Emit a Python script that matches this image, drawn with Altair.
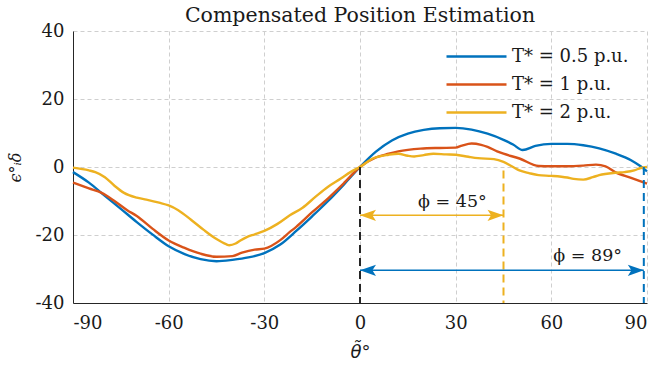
import altair as alt
import pandas as pd

# ---- data ----
blue_x = [-90, -85, -80, -75, -70, -65, -60, -55, -50, -45, -40, -35, -30, -25, -20, -15, -10, -5, 0,
          5, 10, 15, 20, 25, 30, 35, 40, 45, 48, 51, 55, 60, 65, 70, 75, 80, 85, 88, 90]
blue_y = [-1.5, -4.6, -8.5, -12.3, -16.2, -19.9, -23.3, -25.6, -27.1, -27.7, -27.3, -26.6, -25.3, -22.8, -18.8, -14.5, -10.0, -5.1, 0,
          4.5, 7.8, 9.8, 10.9, 11.4, 11.5, 11.0, 9.8, 8.0, 6.6, 5.0, 6.2, 6.8, 6.8, 6.4, 5.5, 4.0, 2.0, 0.2, -1.3]

red_x = [-90, -85, -81, -77, -73, -70, -65, -60, -55, -50, -45, -40, -37, -33, -30, -25, -22, -20, -15, -10, -5, 0,
         5, 9, 12, 19, 25, 30, 32, 35, 38, 40, 43, 45, 50, 56, 60, 65, 70, 74, 77, 80, 85, 90]
red_y = [-4.6, -6.3, -7.6, -10.0, -12.7, -14.4, -18.2, -21.6, -23.8, -25.5, -26.4, -26.2, -25.2, -24.3, -24.0, -21.5, -19.1, -17.6, -13.3, -9.2, -4.7, 0,
         2.8, 3.9, 4.6, 5.4, 5.6, 5.7, 6.3, 6.9, 6.5, 5.9, 4.6, 3.9, 2.5, 0.3, 0.2, 0.2, 0.4, 0.7, 0.2, -1.5, -3.2, -4.9]

yel_x = [-90, -85, -83, -80, -77, -74, -70, -67, -63, -60, -57, -53, -49, -45, -42, -41, -39, -37.5, -35.5, -33, -30, -26, -22, -18, -14, -10, -6, -3, 0,
         4, 9, 12, 15, 17, 20, 23, 27, 30, 34, 37, 42, 45, 48, 50, 53, 56, 60, 65, 67, 70, 73, 75, 80, 83, 86, 88, 90]
yel_y = [-0.2, -1.0, -1.5, -3.0, -5.5, -7.6, -9.0, -9.6, -10.5, -11.3, -12.7, -15.5, -18.5, -21.2, -22.7, -23.0, -22.5, -21.6, -20.6, -19.8, -18.8, -16.8, -14.2, -12.0, -8.8, -5.8, -3.4, -1.5, 0,
         2.5, 3.6, 3.9, 3.3, 3.1, 3.5, 3.9, 3.7, 3.6, 3.0, 2.6, 2.3, 1.5, 0.0, -1.0, -1.8, -2.4, -2.6, -3.1, -3.5, -3.7, -3.0, -2.4, -1.7, -1.5, -1.0, -0.3, 0.0]

series_names = ["T* = 0.5 p.u.", "T* = 1 p.u.", "T* = 2 p.u."]
series_colors = ["#0072BD", "#D95319", "#EDB120"]

x_ticks = [-90, -60, -30, 0, 30, 60, 90]
y_ticks = [-40, -20, 0, 20, 40]

# annotation data
vline_x = [0, 45, 89]
vline_top = [0, -1, 0]
vline_bottom = [-40, -40, -40]
vline_colors = ["#262626", "#EDB120", "#0072BD"]

arrow_y = [-14.2, -30.4]
arrow_x1 = [0, 0]
arrow_x2 = [45, 89]
arrow_colors = ["#EDB120", "#0072BD"]

label_text = ["ϕ = 45°", "ϕ = 89°"]
label_x = [29, 71.4]
label_y = [-10.4, -26.2]

# ---- build tables ----
rows = []
for name, xs, ys in zip(series_names, [blue_x, red_x, yel_x], [blue_y, red_y, yel_y]):
    for i, (a, b) in enumerate(zip(xs, ys)):
        rows.append({"theta": a, "err": b, "series": name, "i": i})
df = pd.DataFrame(rows)

vdf = pd.DataFrame({"x": vline_x, "y1": vline_top, "y2": vline_bottom, "c": vline_colors})
adf = pd.DataFrame({"x1": arrow_x1, "x2": arrow_x2, "y": arrow_y, "c": arrow_colors})

LEFT_HEAD = "M0,0 L2,-0.7 L1.55,0 L2,0.7 Z"
RIGHT_HEAD = "M0,0 L-2,-0.7 L-1.55,0 L-2,0.7 Z"
hrows = []
for x1, x2, y, c in zip(arrow_x1, arrow_x2, arrow_y, arrow_colors):
    hrows.append({"x": x1, "y": y, "c": c, "s": LEFT_HEAD})
    hrows.append({"x": x2, "y": y, "c": c, "s": RIGHT_HEAD})
hdf = pd.DataFrame(hrows)

ldf = pd.DataFrame({"t": label_text, "x": label_x, "y": label_y})

FONT = "DejaVu Serif"
TXT = "#1a1a1a"

xscale = alt.Scale(domain=[-90, 90], nice=False, zero=False)
yscale = alt.Scale(domain=[-40, 40], nice=False, zero=False)

lines = alt.Chart(df).mark_line(strokeWidth=2.4, interpolate="monotone").encode(
    x=alt.X("theta:Q", scale=xscale,
            axis=alt.Axis(values=x_ticks, title="θ̃°", labelExpr="'' + datum.value",
                          labelFont=FONT, labelFontSize=18, labelColor=TXT,
                          titleFont="DejaVu Sans", titleFontStyle="italic", titleFontSize=18,
                          titleColor=TXT, titleFontWeight="normal", titlePadding=11)),
    y=alt.Y("err:Q", scale=yscale,
            axis=alt.Axis(values=y_ticks, title="ϵ°ᵢδ", labelExpr="'' + datum.value",
                          labelFont=FONT, labelFontSize=18, labelColor=TXT,
                          titleFont=FONT, titleFontStyle="italic", titleFontSize=16,
                          titleColor=TXT, titleFontWeight="normal", titlePadding=12)),
    color=alt.Color("series:N",
                    scale=alt.Scale(domain=series_names, range=series_colors),
                    legend=alt.Legend(title=None, orient="none", legendX=392, legendY=14,
                                      symbolType="M-3,0 L3,0", symbolSize=400,
                                      symbolStrokeWidth=2.5, labelOffset=24,
                                      labelFontSize=18, labelFont=FONT, labelColor=TXT,
                                      rowPadding=7, padding=0)),
    order="i:Q",
)

vlines = alt.Chart(vdf).mark_rule(strokeWidth=2, strokeDash=[8, 5]).encode(
    x="x:Q", y="y1:Q", y2="y2:Q",
    stroke=alt.Stroke("c:N", scale=None),
)

arrows = alt.Chart(adf).mark_rule(strokeWidth=1.5).encode(
    x="x1:Q", x2="x2:Q", y="y:Q",
    stroke=alt.Stroke("c:N", scale=None),
)

heads = alt.Chart(hdf).mark_point(filled=True, size=256, opacity=1, strokeWidth=0).encode(
    x="x:Q", y="y:Q",
    fill=alt.Fill("c:N", scale=None),
    shape=alt.Shape("s:N", scale=None),
)

labels = alt.Chart(ldf).mark_text(font=FONT, fontSize=17.5, color=TXT).encode(
    x="x:Q", y="y:Q", text="t:N",
)

chart = alt.layer(lines, vlines, arrows, heads, labels).properties(
    width=574, height=272,
    title=alt.TitleParams("Compensated Position Estimation", font=FONT, fontSize=20.5,
                          fontWeight="normal", color=TXT, anchor="middle", frame="group",
                          offset=6, dy=10),
    autosize=alt.AutoSizeParams(type="none"),
    padding={"left": 73, "top": 31, "right": 12, "bottom": 63},
).configure_view(stroke=None).configure_axis(
    domainColor="#262626", domainWidth=1,
    gridColor="#cfcfcf", gridDash=[4, 3], gridWidth=1,
    ticks=False, tickSize=0,
).configure_axisX(labelPadding=11).configure_axisY(labelPadding=9)

chart.save("out.html", embed_options={"renderer": "svg", "actions": False})
